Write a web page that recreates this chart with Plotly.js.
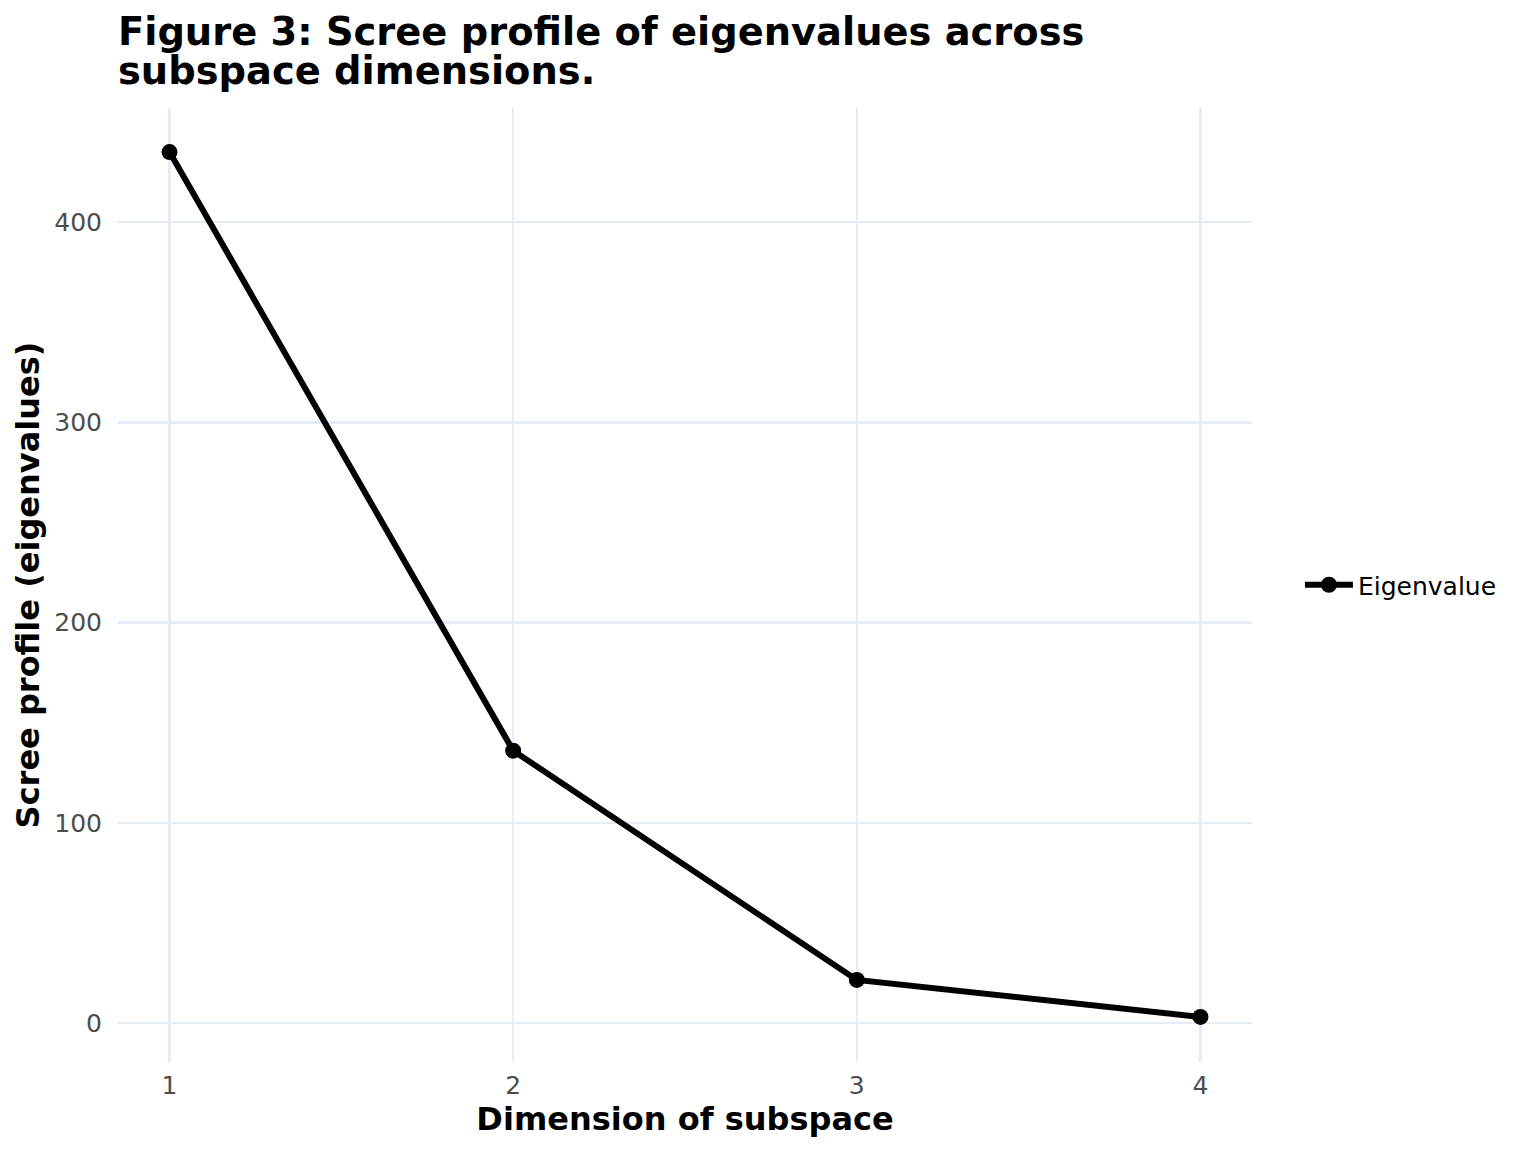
<!DOCTYPE html>
<html>
<head>
<meta charset="utf-8">
<script src="https://cdn.plot.ly/plotly-3.0.1.min.js"></script>
<style>html,body{margin:0;padding:0;background:#fff;}#chart{width:1536px;height:1152px;}</style>
</head>
<body>
<div id="chart"></div>
<script>
const dimensions = [1, 2, 3, 4];
const eigenvalues = [435, 136, 21.5, 3];
const seriesName = "Eigenvalue";
const xTickLabels = ["1", "2", "3", "4"];
const yTickValues = [0, 100, 200, 300, 400];
const titleLines = ["Figure 3: Scree profile of eigenvalues across", "subspace dimensions."];

const FONT = "DejaVu Sans, sans-serif";
const GRID = "#E5ECF6";

const trace = {
  x: dimensions,
  y: eigenvalues,
  name: seriesName,
  type: "scatter",
  mode: "lines+markers",
  line: {color: "#000000", width: 6},
  marker: {color: "#000000", size: 16},
  showlegend: true
};

const layout = {
  width: 1536,
  height: 1152,
  paper_bgcolor: "#ffffff",
  plot_bgcolor: "#ffffff",
  margin: {l: 118, r: 284, t: 108, b: 90},
  font: {family: FONT, color: "#000000"},
  annotations: [
    {text: "<b>" + titleLines[0] + "</b>", xref: "paper", yref: "paper", x: 0, y: 1.0797, xshift: -1,
     xanchor: "left", yanchor: "middle", showarrow: false, borderpad: 0,
     font: {family: FONT, size: 38.4, color: "#000000"}},
    {text: "<b>" + titleLines[1] + "</b>", xref: "paper", yref: "paper", x: 0, y: 1.0388, xshift: -1,
     xanchor: "left", yanchor: "middle", showarrow: false, borderpad: 0,
     font: {family: FONT, size: 38.4, color: "#000000"}}
  ],
  xaxis: {
    range: [0.85, 4.15],
    tickvals: dimensions,
    ticktext: xTickLabels,
    showgrid: true, gridcolor: GRID, gridwidth: 2.5,
    zeroline: false, showline: false,
    ticks: "", ticklabelstandoff: 6,
    tickfont: {family: FONT, size: 25, color: "#4D4D4D"},
    title: {text: "<b>Dimension of subspace</b>", font: {family: FONT, size: 32, color: "#000000"}, standoff: 6}
  },
  yaxis: {
    range: [-19.5, 457],
    tickvals: yTickValues,
    showgrid: true, gridcolor: GRID, gridwidth: 2.5,
    zeroline: false, showline: false,
    ticks: "", ticklabelstandoff: 15,
    tickfont: {family: FONT, size: 25, color: "#4D4D4D"},
    title: {text: "<b>Scree profile (eigenvalues)</b>", font: {family: FONT, size: 32, color: "#000000"}, standoff: 5}
  },
  legend: {
    x: 1.0423, xanchor: "left", y: 0.5, yanchor: "middle",
    itemwidth: 48,
    font: {family: FONT, size: 25, color: "#000000"},
    bgcolor: "rgba(0,0,0,0)"
  },
  showlegend: true
};

Plotly.newPlot("chart", [trace], layout, {displayModeBar: false, staticPlot: true});
</script>
</body>
</html>
